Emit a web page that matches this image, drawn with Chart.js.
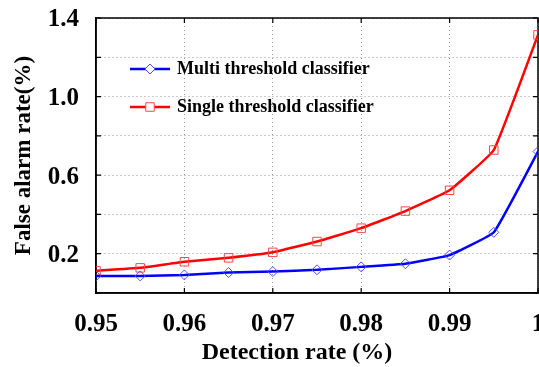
<!DOCTYPE html>
<html>
<head>
<meta charset="utf-8">
<script src="https://cdn.jsdelivr.net/npm/chart.js@4/dist/chart.umd.min.js"></script>
<style>
	body { margin: 0; background: #fff; overflow: hidden; }
	#wrap { width: 545px; height: 367px; }
</style>
</head>
<body>
<div id="wrap"><canvas id="myChart"></canvas></div>
<script>
// detection rate (x) and false alarm rate (y)
var detectionRate = [0.95, 0.955, 0.96, 0.965, 0.97, 0.975, 0.98, 0.985, 0.99, 0.995, 1.0];
var multiThreshold = [0.087, 0.087, 0.092, 0.104, 0.109, 0.118, 0.133, 0.149, 0.193, 0.309, 0.72];
var singleThreshold = [0.113, 0.128, 0.159, 0.179, 0.207, 0.262, 0.33, 0.417, 0.523, 0.728, 1.314];
var yLabelTicks = [0.2, 0.6, 1.0, 1.4];
var seriesNames = ["Multi threshold classifier", "Single threshold classifier"];
var xTitle = "Detection rate (%)";

function toPoints(vals) {
	var pts = [];
	for (var i = 0; i < vals.length; i++) {
		pts.push({ x : detectionRate[i], y : vals[i] });
	}
	return pts;
}

var fontFam = "'Liberation Serif', 'DejaVu Serif', serif";

// legend drawn inside the plot area
var insideLegend = {
	id : 'insideLegend',
	afterDraw : function(chart) {
		var ctx = chart.ctx;
		var area = chart.chartArea;
		var rows = [ { ds : chart.data.datasets[0], y : area.top + 51 },
		             { ds : chart.data.datasets[1], y : area.top + 89 } ];
		ctx.save();
		rows.forEach(function(r) {
			var x0 = area.left + 34;
			ctx.strokeStyle = r.ds.borderColor;
			ctx.lineWidth = 2.5;
			ctx.beginPath();
			ctx.moveTo(x0, r.y);
			ctx.lineTo(x0 + 40, r.y);
			ctx.stroke();
			ctx.fillStyle = '#fff';
			ctx.strokeStyle = r.ds.pointBorderColor;
			ctx.lineWidth = 1;
			Chart.helpers.drawPoint(ctx, {
				pointStyle : r.ds.pointStyle,
				radius : r.ds.pointRadius,
				borderWidth : 1
			}, x0 + 20, r.y);
			ctx.fillStyle = '#000';
			ctx.font = 'bold 18px ' + fontFam;
			ctx.textBaseline = 'middle';
			ctx.textAlign = 'left';
			ctx.fillText(r.ds.label, x0 + 47, r.y);
		});
		// x axis title, sits a bit left of the axis centre in the original
		ctx.font = 'bold 24px ' + fontFam;
		ctx.textAlign = 'center';
		ctx.fillText(xTitle, (area.left + area.right) / 2 - 20, 353);
		ctx.restore();
	}
};

// frame with short inside ticks on all four sides
var frame = {
	id : 'frame',
	beforeDatasetsDraw : function(chart) {
		var a = chart.chartArea;
		var c = chart.ctx;
		var xs = chart.scales.x, ys = chart.scales.y;
		c.save();
		c.strokeStyle = '#000';
		c.lineWidth = 1.5;
		c.strokeRect(a.left, a.top, a.right - a.left, a.bottom - a.top);
		c.lineWidth = 1.2;
		c.beginPath();
		xs.ticks.forEach(function(t) {
			var px = xs.getPixelForValue(t.value);
			c.moveTo(px, a.top); c.lineTo(px, a.top + 5);
			c.moveTo(px, a.bottom); c.lineTo(px, a.bottom - 5);
		});
		ys.ticks.forEach(function(t) {
			var py = ys.getPixelForValue(t.value);
			c.moveTo(a.left, py); c.lineTo(a.left + 5, py);
			c.moveTo(a.right, py); c.lineTo(a.right - 5, py);
		});
		c.stroke();
		c.restore();
	}
};

var ctx = document.getElementById('myChart').getContext('2d');
var chart = new Chart(ctx, {
	type : 'line',
	data : {
		datasets : [ {
			label : seriesNames[0],
			data : toPoints(multiThreshold),
			borderColor : 'rgb(0, 0, 255)',
			backgroundColor : 'rgba(255, 255, 255, 0)',
			borderWidth : 2.5,
			pointStyle : 'rectRot',
			pointRadius : 5,
			pointBorderWidth : 1,
			pointBorderColor : 'rgb(80, 80, 255)',
			tension : 0.1,
			fill : false
		}, {
			label : seriesNames[1],
			data : toPoints(singleThreshold),
			borderColor : 'rgb(255, 0, 0)',
			backgroundColor : 'rgba(255, 255, 255, 0)',
			borderWidth : 2.5,
			pointStyle : 'rect',
			pointRadius : 6,
			pointBorderWidth : 1,
			pointBorderColor : 'rgb(255, 70, 70)',
			tension : 0.1,
			fill : false
		} ]
	},
	options : {
		responsive : true,
		maintainAspectRatio : false,
		animation : false,
		layout : {
			padding : { top : 18, right : 3, left : 0, bottom : 0 }
		},
		plugins : {
			legend : { display : false },
			tooltip : { enabled : false }
		},
		scales : {
			x : {
				type : 'linear',
				min : 0.95,
				max : 1.0,
				ticks : {
					stepSize : 0.01,
					padding : 17,
					color : '#000',
					font : { family : fontFam, size : 25, weight : 'bold' },
					callback : function(v) {
						return v === 1 ? '1' : v.toFixed(2);
					}
				},
				grid : {
					color : '#999',
					drawTicks : false
				},
				border : { display : true, color : '#000', width : 1.5, dash : [1, 3] },
				title : { display : false },
				afterFit : function(scale) {
					scale.height = 74;
					scale.paddingLeft = 0;
					scale.paddingRight = 0;
				}
			},
			y : {
				min : 0,
				max : 1.4,
				ticks : {
					stepSize : 0.2,
					padding : 17,
					labelOffset : 2,
					color : '#000',
					font : { family : fontFam, size : 25, weight : 'bold' },
					callback : function(v) {
						var r = Math.round(v * 10) / 10;
						return yLabelTicks.indexOf(r) >= 0 ? r.toFixed(1) : '';
					}
				},
				grid : {
					color : '#999',
					drawTicks : false
				},
				border : { display : true, color : '#000', width : 1.5, dash : [1, 3] },
				title : {
					display : true,
					text : 'False alarm rate(%)',
					color : '#000',
					padding : { top : 10, bottom : 0 },
					font : { family : fontFam, size : 23, weight : 'bold' }
				},
				afterFit : function(scale) {
					scale.width = 96;
					scale.paddingTop = 0;
					scale.paddingBottom = 0;
				}
			}
		}
	},
	plugins : [ insideLegend, frame ]
});
</script>
</body>
</html>
